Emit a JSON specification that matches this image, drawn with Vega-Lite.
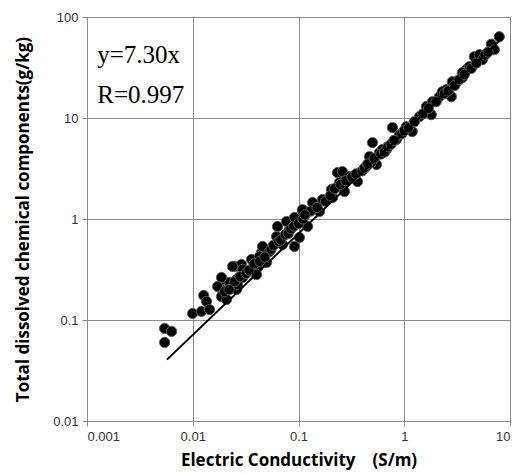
{
  "$schema": "https://vega.github.io/schema/vega-lite/v6.json",
  "width": 423,
  "height": 404,
  "autosize": {"type": "none"},
  "padding": {"left": 87, "top": 17, "right": 12, "bottom": 54},
  "background": "white",
  "config": {
    "view": {"stroke": "#8c8c8c", "strokeWidth": 1},
    "axis": {
      "gridColor": "#8c8c8c",
      "gridWidth": 1,
      "domainColor": "#8c8c8c",
      "tickColor": "#8c8c8c",
      "tickSize": 5,
      "labelFont": "Liberation Sans",
      "labelFontSize": 13,
      "labelColor": "#333333",
      "titleFont": "Open Sans",
      "titleFontWeight": "bold",
      "titleFontSize": 17,
      "titleColor": "#000000"
    }
  },
  "layer": [
    {
      "data": {"values": [
        {"ec": 0.00542, "tdc": 0.0826}, {"ec": 0.00631, "tdc": 0.0771}, {"ec": 0.00542, "tdc": 0.0600},
        {"ec": 0.00997, "tdc": 0.116}, {"ec": 0.0121, "tdc": 0.122}, {"ec": 0.0127, "tdc": 0.175},
        {"ec": 0.0135, "tdc": 0.153}, {"ec": 0.0144, "tdc": 0.127}, {"ec": 0.0179, "tdc": 0.210},
        {"ec": 0.0191, "tdc": 0.252}, {"ec": 0.0187, "tdc": 0.171}, {"ec": 0.0209, "tdc": 0.160},
        {"ec": 0.0223, "tdc": 0.235}, {"ec": 0.0249, "tdc": 0.339}, {"ec": 0.0260, "tdc": 0.201},
        {"ec": 0.0289, "tdc": 0.355}, {"ec": 0.0296, "tdc": 0.264}, {"ec": 0.0360, "tdc": 0.398},
        {"ec": 0.0410, "tdc": 0.331}, {"ec": 0.0447, "tdc": 0.466}, {"ec": 0.0265, "tdc": 0.225},
        {"ec": 0.0187, "tdc": 0.264}, {"ec": 0.0172, "tdc": 0.215}, {"ec": 0.0238, "tdc": 0.339},
        {"ec": 0.0260, "tdc": 0.252}, {"ec": 0.0296, "tdc": 0.317}, {"ec": 0.0401, "tdc": 0.282},
        {"ec": 0.0457, "tdc": 0.535}, {"ec": 0.0499, "tdc": 0.371}, {"ec": 0.0532, "tdc": 0.477},
        {"ec": 0.0620, "tdc": 0.671}, {"ec": 0.0633, "tdc": 0.843}, {"ec": 0.0706, "tdc": 0.559},
        {"ec": 0.0822, "tdc": 0.787}, {"ec": 0.0917, "tdc": 0.535}, {"ec": 0.0957, "tdc": 0.989},
        {"ec": 0.102, "tdc": 0.656}, {"ec": 0.109, "tdc": 1.19}, {"ec": 0.122, "tdc": 0.843},
        {"ec": 0.0428, "tdc": 0.426}, {"ec": 0.0770, "tdc": 0.945}, {"ec": 0.0917, "tdc": 1.035},
        {"ec": 0.109, "tdc": 1.24}, {"ec": 0.136, "tdc": 1.46}, {"ec": 0.158, "tdc": 1.19},
        {"ec": 0.169, "tdc": 1.56}, {"ec": 0.205, "tdc": 1.96}, {"ec": 0.210, "tdc": 1.63},
        {"ec": 0.234, "tdc": 2.88}, {"ec": 0.244, "tdc": 2.30}, {"ec": 0.260, "tdc": 2.95},
        {"ec": 0.272, "tdc": 1.87}, {"ec": 0.303, "tdc": 2.63}, {"ec": 0.361, "tdc": 2.35},
        {"ec": 0.439, "tdc": 3.31}, {"ec": 0.469, "tdc": 4.15}, {"ec": 0.500, "tdc": 5.71},
        {"ec": 0.546, "tdc": 3.46}, {"ec": 0.582, "tdc": 4.55}, {"ec": 0.679, "tdc": 4.87},
        {"ec": 0.489, "tdc": 3.62}, {"ec": 0.622, "tdc": 4.87}, {"ec": 0.773, "tdc": 8.04},
        {"ec": 0.843, "tdc": 6.11}, {"ec": 1.048, "tdc": 8.22}, {"ec": 1.19, "tdc": 7.34},
        {"ec": 1.39, "tdc": 10.3}, {"ec": 1.62, "tdc": 13.0}, {"ec": 1.80, "tdc": 10.8},
        {"ec": 2.15, "tdc": 16.3}, {"ec": 2.50, "tdc": 19.1}, {"ec": 2.79, "tdc": 16.3},
        {"ec": 3.11, "tdc": 22.4}, {"ec": 3.54, "tdc": 25.1}, {"ec": 3.87, "tdc": 30.1},
        {"ec": 1.85, "tdc": 14.5}, {"ec": 2.29, "tdc": 18.2}, {"ec": 2.85, "tdc": 22.9},
        {"ec": 3.54, "tdc": 28.1}, {"ec": 4.13, "tdc": 32.2}, {"ec": 4.60, "tdc": 40.5},
        {"ec": 5.13, "tdc": 42.4}, {"ec": 5.48, "tdc": 37.8}, {"ec": 6.66, "tdc": 53.9},
        {"ec": 7.11, "tdc": 47.5}, {"ec": 7.92, "tdc": 63.8},
        {"ec": 0.9, "tdc": 6.8}, {"ec": 0.95, "tdc": 7.0}, {"ec": 1.0, "tdc": 7.5}, {"ec": 1.1, "tdc": 8.0},
        {"ec": 1.25, "tdc": 9.2}, {"ec": 1.5, "tdc": 11.0}, {"ec": 1.7, "tdc": 12.5}, {"ec": 2.0, "tdc": 14.5},
        {"ec": 2.4, "tdc": 17.5}, {"ec": 2.6, "tdc": 18.5}, {"ec": 3.0, "tdc": 21.0}, {"ec": 3.3, "tdc": 24.0},
        {"ec": 3.7, "tdc": 27.0}, {"ec": 4.3, "tdc": 31.0}, {"ec": 4.8, "tdc": 35.0}, {"ec": 5.8, "tdc": 42.0},
        {"ec": 6.2, "tdc": 45.0},
        {"ec": 0.13, "tdc": 1.2}, {"ec": 0.15, "tdc": 1.3}, {"ec": 0.18, "tdc": 1.5}, {"ec": 0.2, "tdc": 1.7},
        {"ec": 0.22, "tdc": 2.0}, {"ec": 0.25, "tdc": 2.2}, {"ec": 0.28, "tdc": 2.4}, {"ec": 0.32, "tdc": 2.6},
        {"ec": 0.35, "tdc": 2.8}, {"ec": 0.4, "tdc": 3.0}, {"ec": 0.42, "tdc": 3.2}, {"ec": 0.45, "tdc": 3.5},
        {"ec": 0.52, "tdc": 4.0}, {"ec": 0.6, "tdc": 4.4}, {"ec": 0.65, "tdc": 4.6}, {"ec": 0.7, "tdc": 5.2},
        {"ec": 0.75, "tdc": 5.5}, {"ec": 0.8, "tdc": 6.0},
        {"ec": 0.02, "tdc": 0.19}, {"ec": 0.022, "tdc": 0.2}, {"ec": 0.025, "tdc": 0.24}, {"ec": 0.028, "tdc": 0.27},
        {"ec": 0.032, "tdc": 0.29}, {"ec": 0.034, "tdc": 0.31}, {"ec": 0.038, "tdc": 0.36}, {"ec": 0.043, "tdc": 0.38},
        {"ec": 0.048, "tdc": 0.42}, {"ec": 0.055, "tdc": 0.5}, {"ec": 0.058, "tdc": 0.55}, {"ec": 0.065, "tdc": 0.6},
        {"ec": 0.068, "tdc": 0.62}, {"ec": 0.075, "tdc": 0.7}, {"ec": 0.08, "tdc": 0.72}, {"ec": 0.085, "tdc": 0.8},
        {"ec": 0.09, "tdc": 0.85}, {"ec": 0.1, "tdc": 0.9}, {"ec": 0.11, "tdc": 1.0}, {"ec": 0.115, "tdc": 1.1}
      ]},
      "mark": {"type": "point", "shape": "circle", "filled": true, "size": 105, "fill": "#000000", "stroke": "#5a5a5a", "strokeWidth": 1, "opacity": 1},
      "encoding": {
        "x": {
          "field": "ec", "type": "quantitative",
          "scale": {"type": "log", "domain": [0.001, 10], "nice": false},
          "axis": {"values": [0.001, 0.01, 0.1, 1, 10], "format": "~g", "title": "Electric Conductivity　(S/m)", "titlePadding": 9, "labelPadding": 4}
        },
        "y": {
          "field": "tdc", "type": "quantitative",
          "scale": {"type": "log", "domain": [0.01, 100], "nice": false},
          "axis": {"values": [0.01, 0.1, 1, 10, 100], "format": "~g", "title": "Total dissolved chemical components(g/kg)", "titlePadding": 20, "labelPadding": 4}
        }
      }
    },
    {
      "data": {"values": [{"ec": 0.0057, "tdc": 0.0405}, {"ec": 8, "tdc": 58.4}]},
      "mark": {"type": "line", "color": "#000000", "strokeWidth": 2},
      "encoding": {
        "x": {"field": "ec", "type": "quantitative"},
        "y": {"field": "tdc", "type": "quantitative"}
      }
    },
    {
      "data": {"values": [{"ec": 0.00125, "tdc": 35.3, "label": "y=7.30x"}, {"ec": 0.00125, "tdc": 14.2, "label": "R=0.997"}]},
      "mark": {"type": "text", "align": "left", "baseline": "alphabetic", "font": "Liberation Serif", "fontSize": 25, "color": "#000000"},
      "encoding": {
        "x": {"field": "ec", "type": "quantitative"},
        "y": {"field": "tdc", "type": "quantitative"},
        "text": {"field": "label"}
      }
    }
  ]
}
